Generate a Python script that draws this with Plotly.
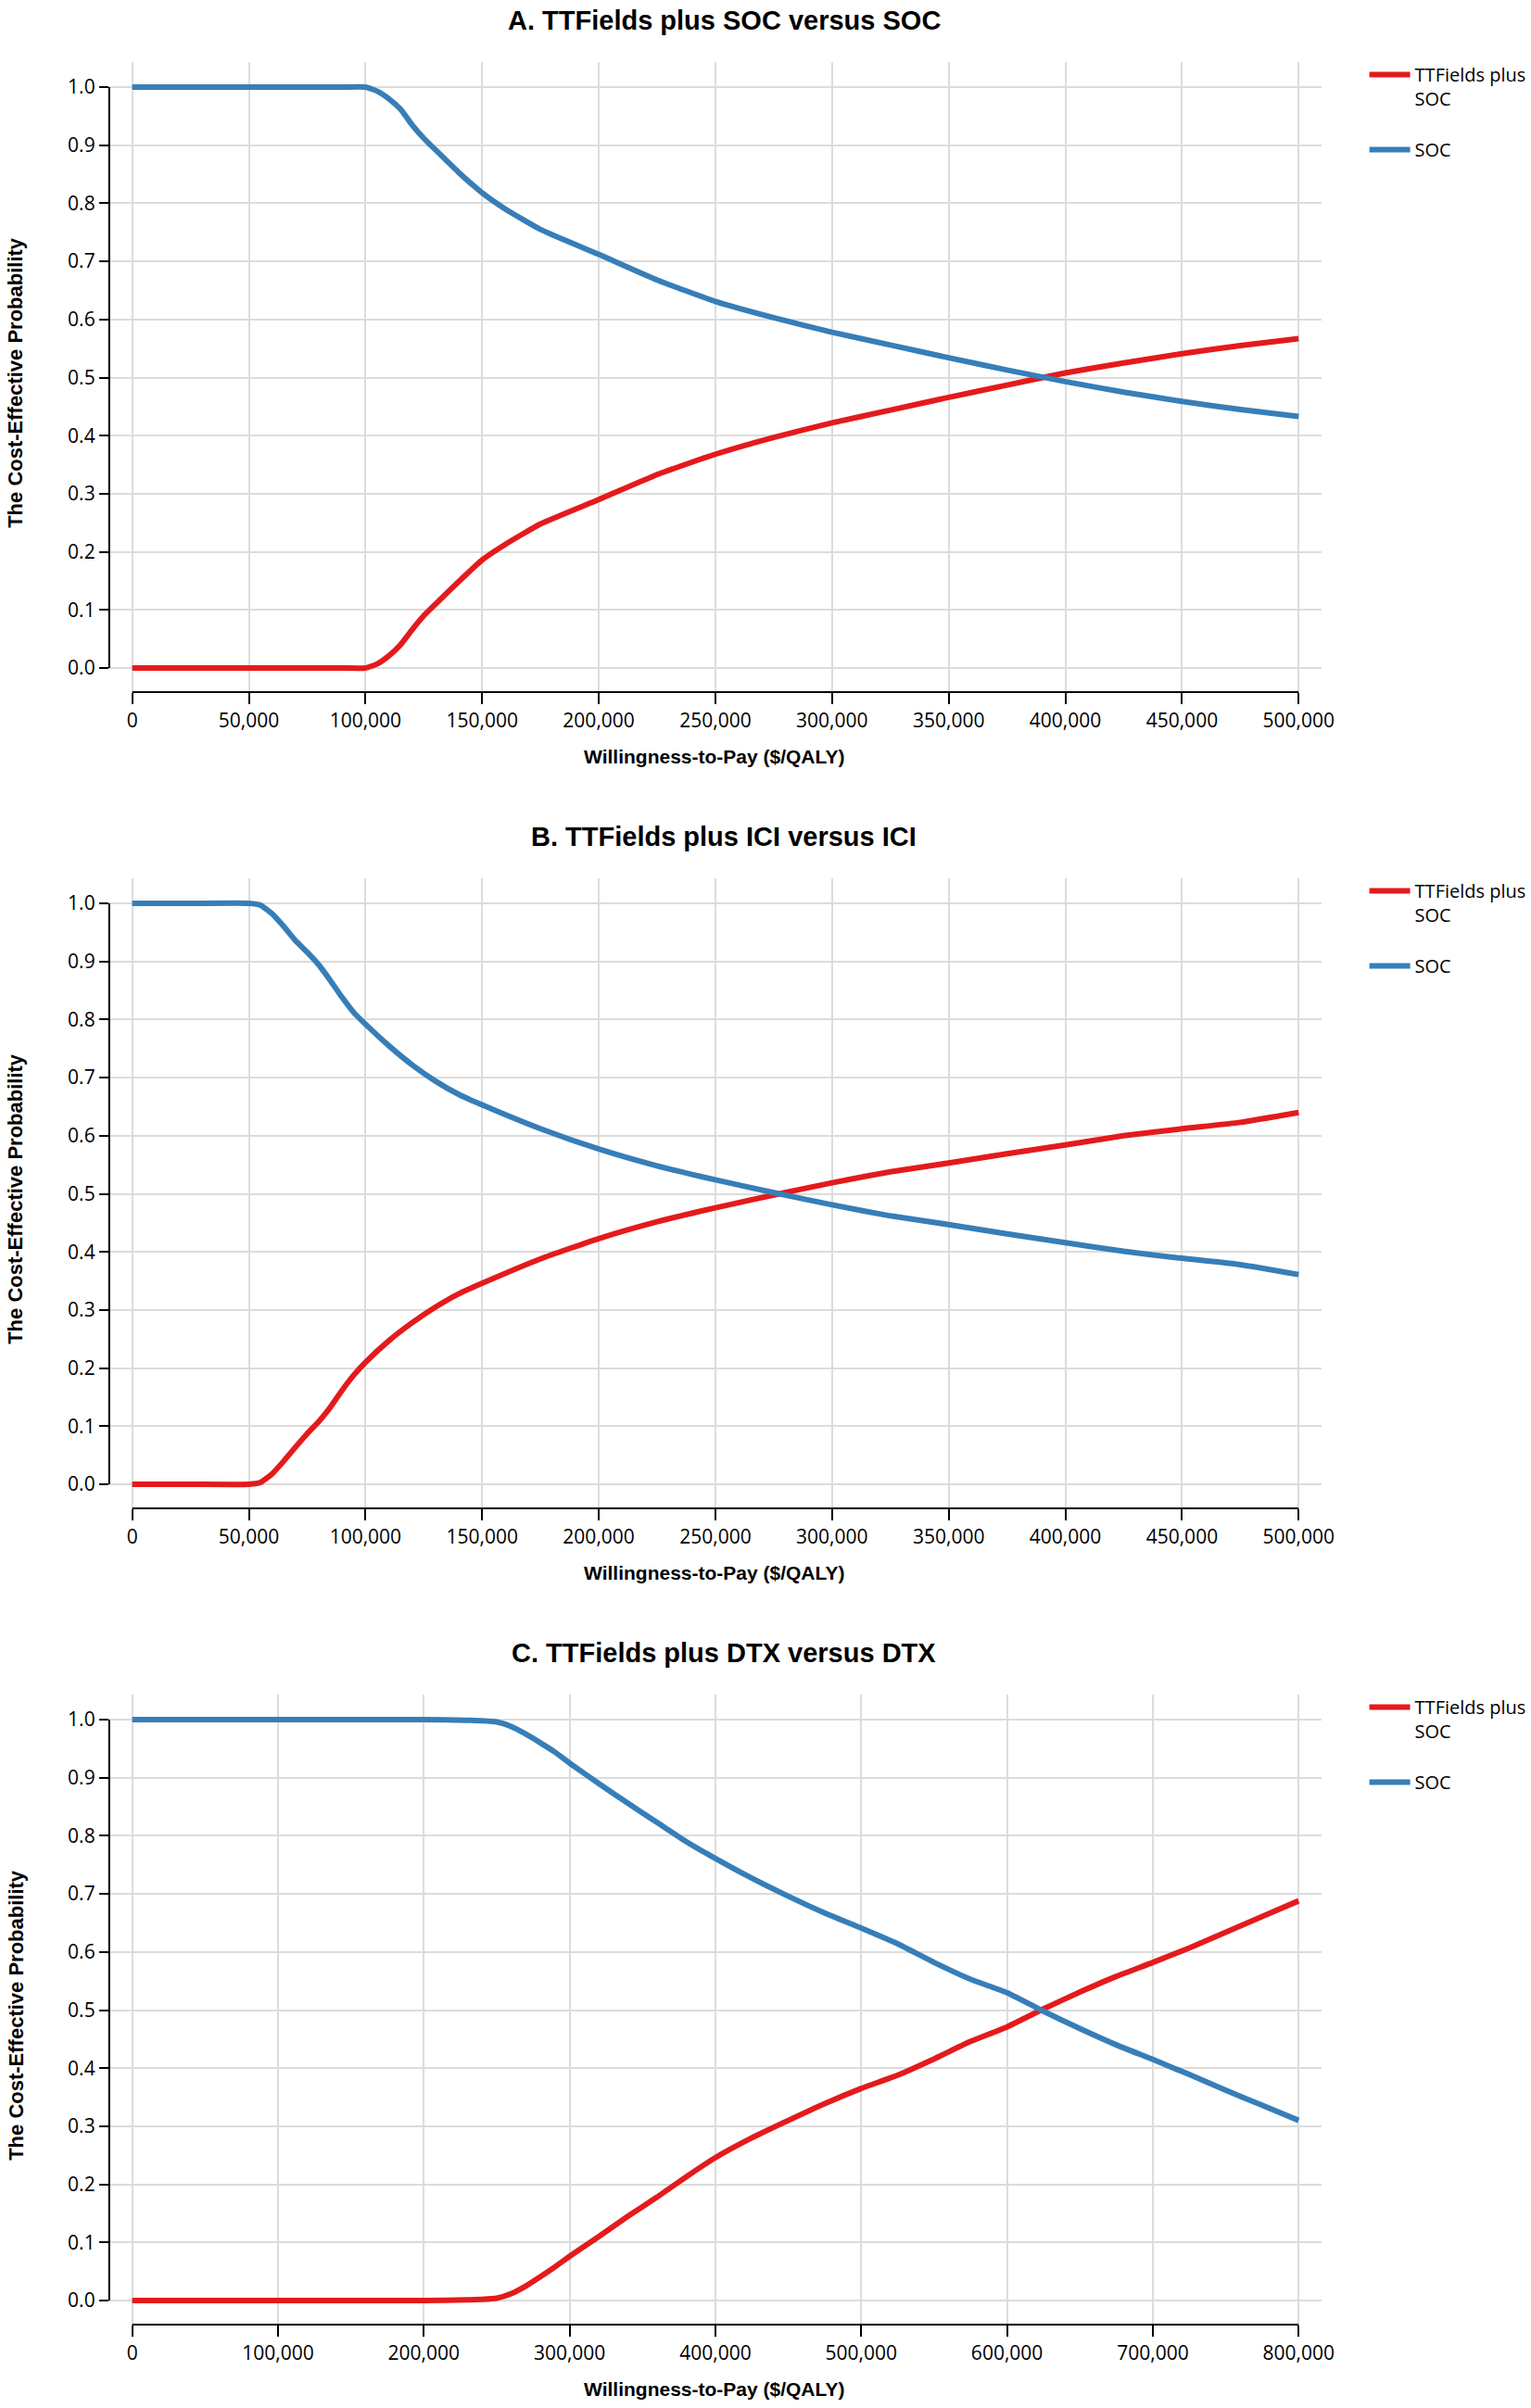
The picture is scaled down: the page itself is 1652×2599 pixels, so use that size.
import plotly.graph_objects as go

# Cost-effectiveness acceptability curves, three comparisons

# A. TTFields plus SOC versus SOC
wtp_a = [0, 25000, 50000, 75000, 90000, 100000, 105000, 110000, 115000, 120000,
         125000, 130000, 140000, 150000, 160000, 175000, 200000, 225000, 250000,
         275000, 300000, 325000, 350000, 375000, 400000, 425000, 450000, 475000, 500000]
ttf_a = [0, 0, 0, 0, 0, 0, 0.007, 0.021, 0.04, 0.066,
         0.09, 0.11, 0.149, 0.186, 0.213, 0.248, 0.29, 0.333, 0.368,
         0.397, 0.422, 0.444, 0.466, 0.487, 0.508, 0.525, 0.541, 0.555, 0.567]
soc_a = [1, 1, 1, 1, 1, 1, 0.993, 0.98, 0.962, 0.935,
         0.912, 0.892, 0.853, 0.818, 0.79, 0.755, 0.712, 0.668, 0.631,
         0.603, 0.578, 0.556, 0.534, 0.513, 0.493, 0.475, 0.459, 0.445, 0.433]

# B. TTFields plus ICI versus ICI
wtp_b = [0, 25000, 50000, 55000, 60000, 65000, 70000, 75000, 80000, 85000,
         90000, 95000, 100000, 110000, 120000, 130000, 140000, 150000, 175000,
         200000, 225000, 250000, 275000, 300000, 325000, 350000, 375000, 400000,
         425000, 450000, 475000, 500000]
ttf_b = [0, 0, 0, 0.003, 0.018, 0.04, 0.064, 0.087, 0.108, 0.133,
         0.162, 0.188, 0.21, 0.247, 0.278, 0.305, 0.328, 0.346, 0.388,
         0.423, 0.452, 0.476, 0.498, 0.519, 0.538, 0.553, 0.569, 0.584,
         0.6, 0.612, 0.623, 0.64]
soc_b = [1, 1, 1, 0.997, 0.982, 0.96, 0.936, 0.916, 0.894, 0.867,
         0.838, 0.812, 0.792, 0.755, 0.722, 0.694, 0.671, 0.653, 0.612,
         0.577, 0.548, 0.524, 0.502, 0.481, 0.462, 0.447, 0.431, 0.416,
         0.401, 0.389, 0.378, 0.361]

# C. TTFields plus DTX versus DTX
wtp_c = [0, 100000, 200000, 230000, 240000, 250000, 260000, 270000, 280000, 290000,
         300000, 320000, 340000, 360000, 380000, 400000, 425000, 450000, 475000,
         500000, 525000, 550000, 575000, 600000, 625000, 650000, 675000, 700000,
         725000, 750000, 775000, 800000]
ttf_c = [0, 0, 0, 0.001, 0.002, 0.004, 0.012, 0.025, 0.041, 0.058,
         0.076, 0.11, 0.145, 0.178, 0.213, 0.246, 0.28, 0.31, 0.339,
         0.365, 0.388, 0.416, 0.446, 0.471, 0.502, 0.531, 0.558, 0.582,
         0.607, 0.634, 0.661, 0.688]
soc_c = [1, 1, 1, 0.999, 0.998, 0.996, 0.988, 0.975, 0.96, 0.944,
         0.925, 0.89, 0.856, 0.823, 0.79, 0.761, 0.727, 0.696, 0.667,
         0.641, 0.614, 0.582, 0.553, 0.53, 0.498, 0.468, 0.44, 0.415,
         0.389, 0.362, 0.336, 0.31]

titles = ["A. TTFields plus SOC versus SOC",
          "B. TTFields plus ICI versus ICI",
          "C. TTFields plus DTX versus DTX"]
series_names = ["TTFields plus<br>SOC", "SOC"]
x_title = "Willingness-to-Pay ($/QALY)"
y_title = "The Cost-Effective Probability"

RED = "#e41a1c"
BLUE = "#377eb8"
W, H = 1652, 2599
STEP = 881  # vertical distance between panels (px)
TICK_FONT = dict(family="Open Sans, Liberation Sans", size=21, color="black")

panels = [(wtp_a, ttf_a, soc_a, 500000, 50000),
          (wtp_b, ttf_b, soc_b, 500000, 50000),
          (wtp_c, ttf_c, soc_c, 800000, 100000)]

fig = go.Figure()
layout = dict(width=W, height=H, margin=dict(l=0, r=0, t=0, b=0),
              plot_bgcolor="white", paper_bgcolor="white",
              showlegend=True, annotations=[], shapes=[])

x_dom = [119 / W, 1440 / W]
for i, (wtp, ttf, soc, xmax, dtick) in enumerate(panels):
    n = "" if i == 0 else str(i + 1)
    top = 67 + i * STEP
    bot = 747 + i * STEP
    leg = "legend" + n
    for name, vals, col in [(series_names[0], ttf, RED), (series_names[1], soc, BLUE)]:
        fig.add_trace(go.Scatter(
            x=wtp, y=vals, mode="lines", name=name,
            line=dict(color=col, width=6, shape="spline", smoothing=0.45),
            xaxis="x" + n, yaxis="y" + n, legend=leg,
            legendgroup=leg + name, hoverinfo="skip"))

    pad = xmax * 25 / 1269
    layout["xaxis" + n] = dict(
        domain=x_dom, anchor="y" + n, range=[-pad, xmax + pad],
        tickmode="linear", tick0=0, dtick=dtick, tickformat=",",
        ticks="outside", ticklen=12, tickwidth=2, tickcolor="black",
        showline=False, zeroline=False,
        showgrid=True, gridcolor="#dcdcdc", gridwidth=1.5, tickfont=TICK_FONT)
    layout["yaxis" + n] = dict(
        domain=[1 - bot / H, 1 - top / H], anchor="x" + n,
        range=[-0.0415, 1.0431],
        tickmode="linear", tick0=0, dtick=0.1, tickformat=".1f",
        ticks="outside", ticklen=10, tickwidth=2, tickcolor="black",
        showline=False, zeroline=False,
        showgrid=True, gridcolor="#dcdcdc", gridwidth=1.5, tickfont=TICK_FONT)
    layout[leg] = dict(
        x=1487 / W, y=1 - (61 + i * STEP) / H, xanchor="left", yanchor="top",
        valign="top", tracegroupgap=26, itemwidth=44, bgcolor="rgba(0,0,0,0)",
        font=dict(family="Open Sans, Liberation Sans", size=20, color="black"))

    # axis lines spanning only the data range, like the original
    layout["shapes"].append(dict(type="line", xref="x" + n, yref="y" + n + " domain",
                                 x0=0, x1=xmax, y0=0, y1=0,
                                 line=dict(color="black", width=2)))
    layout["shapes"].append(dict(type="line", xref="x" + n + " domain", yref="y" + n,
                                 x0=0, x1=0, y0=0, y1=1,
                                 line=dict(color="black", width=2)))

    layout["annotations"].append(dict(
        text="<b>" + titles[i] + "</b>", xref="paper", yref="paper",
        x=789 / W, y=1 - (22 + i * STEP) / H, xanchor="center", yanchor="middle",
        showarrow=False, font=dict(family="Liberation Sans, Arial", size=29, color="black")))
    layout["annotations"].append(dict(
        text="<b>" + x_title + "</b>", xref="paper", yref="paper",
        x=778 / W, y=1 - (816 + i * STEP) / H, xanchor="center", yanchor="middle",
        showarrow=False, font=dict(family="Liberation Sans, Arial", size=21, color="black")))
    layout["annotations"].append(dict(
        text="<b>" + y_title + "</b>", xref="paper", yref="paper", textangle=-90,
        x=17 / W, y=1 - (413 + i * STEP) / H, xanchor="center", yanchor="middle",
        showarrow=False, font=dict(family="Liberation Sans, Arial", size=22, color="black")))

fig.update_layout(**layout)
fig.write_html("out.html", config={"displayModeBar": False},
               post_script="document.body.style.margin='0';")
